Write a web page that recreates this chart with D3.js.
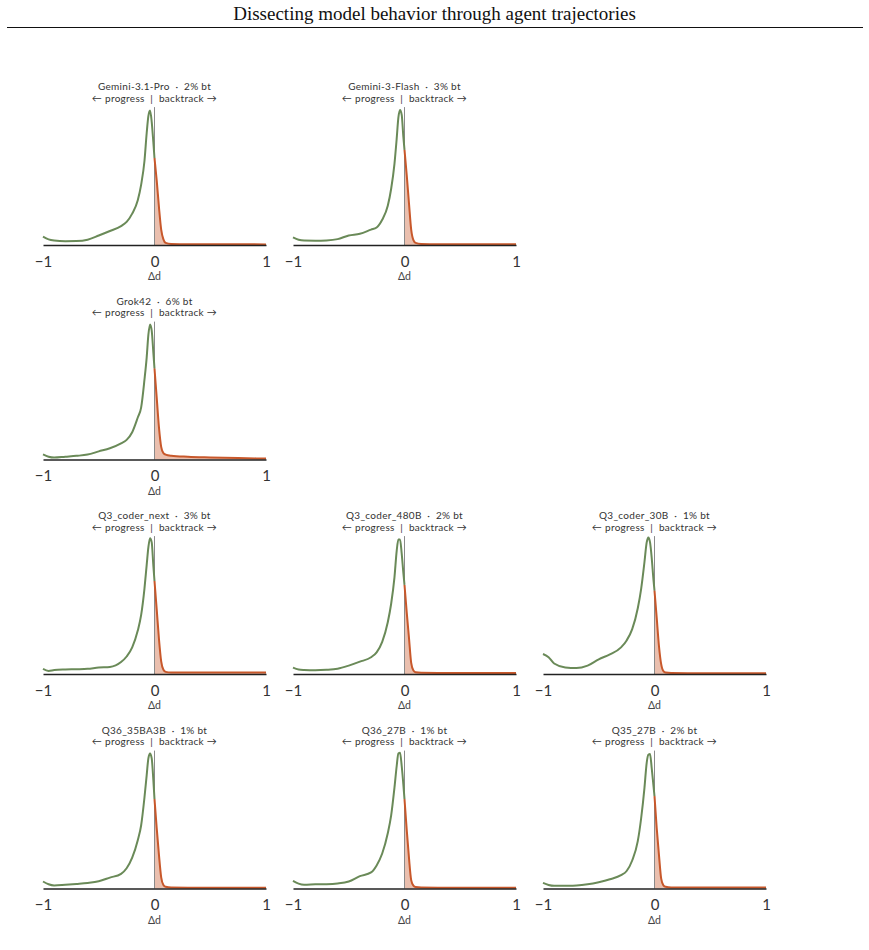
<!DOCTYPE html>
<html>
<head>
<meta charset="utf-8">
<script src="https://cdn.jsdelivr.net/npm/d3@7"></script>
<style>
  body { margin: 0; background: #fff; }
  svg text { white-space: pre; }
</style>
</head>
<body>
<script>
// shared Δd grid for all densities
const xGrid = [-1, -0.95, -0.9, -0.8, -0.7, -0.6, -0.5, -0.4, -0.3, -0.25, -0.2, -0.15, -0.12, -0.09, -0.07, -0.055, -0.04, -0.025, -0.01, 0, 0.02, 0.04, 0.06, 0.08, 0.1, 0.15, 0.3, 0.5, 0.75, 1];

const models = ["Gemini-3.1-Pro", "Gemini-3-Flash", "Grok42", "Q3_coder_next", "Q3_coder_480B", "Q3_coder_30B", "Q36_35BA3B", "Q36_27B", "Q35_27B"];
const btPct = [2, 3, 6, 3, 2, 1, 1, 1, 2];

// density (relative height)
const gemini31Pro = [0.06, 0.04, 0.032, 0.027, 0.028, 0.038, 0.068, 0.1, 0.135, 0.165, 0.224, 0.32, 0.43, 0.6, 0.8, 0.92, 0.96, 0.88, 0.73, 0.62, 0.46, 0.27, 0.11, 0.04, 0.015, 0.007, 0.005, 0.005, 0.005, 0.004];
const gemini3Flash = [0.055, 0.038, 0.032, 0.031, 0.033, 0.042, 0.068, 0.08, 0.11, 0.125, 0.18, 0.28, 0.4, 0.58, 0.76, 0.91, 0.965, 0.93, 0.77, 0.68, 0.5, 0.3, 0.11, 0.035, 0.015, 0.008, 0.006, 0.006, 0.005, 0.005];
const grok42 = [0.036, 0.02, 0.014, 0.02, 0.026, 0.035, 0.058, 0.08, 0.115, 0.14, 0.195, 0.3, 0.37, 0.57, 0.73, 0.89, 0.965, 0.92, 0.76, 0.65, 0.44, 0.23, 0.09, 0.045, 0.035, 0.027, 0.02, 0.015, 0.01, 0.007];
const q3CoderNext = [0.036, 0.022, 0.028, 0.032, 0.034, 0.037, 0.046, 0.05, 0.085, 0.125, 0.19, 0.31, 0.42, 0.61, 0.78, 0.905, 0.97, 0.94, 0.77, 0.664, 0.46, 0.25, 0.09, 0.03, 0.015, 0.01, 0.01, 0.01, 0.01, 0.01];
const q3Coder480B = [0.045, 0.032, 0.029, 0.027, 0.03, 0.038, 0.06, 0.088, 0.12, 0.155, 0.23, 0.37, 0.5, 0.69, 0.88, 0.96, 0.96, 0.86, 0.72, 0.636, 0.44, 0.26, 0.08, 0.025, 0.012, 0.009, 0.008, 0.008, 0.008, 0.008];
const q3Coder30B = [0.143, 0.12, 0.075, 0.047, 0.042, 0.06, 0.105, 0.14, 0.19, 0.24, 0.32, 0.47, 0.607, 0.8, 0.94, 0.975, 0.94, 0.83, 0.68, 0.595, 0.4, 0.2, 0.07, 0.02, 0.01, 0.007, 0.006, 0.006, 0.006, 0.006];
const q36_35BA3B = [0.05, 0.03, 0.022, 0.027, 0.033, 0.04, 0.052, 0.078, 0.105, 0.145, 0.22, 0.345, 0.45, 0.65, 0.81, 0.93, 0.965, 0.93, 0.77, 0.638, 0.43, 0.24, 0.08, 0.025, 0.012, 0.007, 0.006, 0.006, 0.006, 0.006];
const q36_27B = [0.055, 0.035, 0.027, 0.03, 0.031, 0.036, 0.05, 0.088, 0.115, 0.165, 0.25, 0.395, 0.52, 0.72, 0.875, 0.965, 0.97, 0.875, 0.74, 0.638, 0.42, 0.22, 0.06, 0.02, 0.01, 0.007, 0.006, 0.006, 0.006, 0.006];
const q35_27B = [0.04, 0.025, 0.019, 0.02, 0.022, 0.03, 0.045, 0.066, 0.095, 0.125, 0.2, 0.338, 0.5, 0.719, 0.898, 0.955, 0.96, 0.86, 0.74, 0.66, 0.43, 0.24, 0.07, 0.022, 0.012, 0.008, 0.007, 0.007, 0.007, 0.007];

const densities = [gemini31Pro, gemini3Flash, grok42, q3CoderNext, q3Coder480B, q3Coder30B, q36_35BA3B, q36_27B, q35_27B];
const tickValues = [-1, 0, 1];

// grid slot [row, col] of each panel
const slots = [[0, 0], [0, 1], [1, 0], [2, 0], [2, 1], [2, 2], [3, 0], [3, 1], [3, 2]];

const W = 869, H = 950;
const panelW = 223, panelH = 140;
const left0 = 43, colStep = 250, base0 = 245, rowStep = 214.5;

const green = "#6a8a58", orange = "#c8582b";
const tickFont = "'Century Gothic', 'URW Gothic', 'Lato', sans-serif";

const svg = d3.select("body").append("svg")
    .attr("width", W)
    .attr("height", H);

// title + rule
svg.append("text")
    .attr("x", W / 2)
    .attr("y", 20)
    .attr("text-anchor", "middle")
    .style("font-family", "'Liberation Serif', 'Times New Roman', serif")
    .style("font-size", "19px")
    .style("fill", "#111")
    .text("Dissecting model behavior through agent trajectories");

svg.append("line")
    .attr("x1", 7).attr("x2", 863)
    .attr("y1", 27.5).attr("y2", 27.5)
    .style("stroke", "#111")
    .style("stroke-width", 1.2);

var x = d3.scaleLinear().domain([-1, 1]).range([0, panelW]);
var y = d3.scaleLinear().domain([0, 1]).range([0, -panelH]);

var line = d3.line()
    .x(function(d) { return x(d[0]); })
    .y(function(d) { return y(d[1]); })
    .curve(d3.curveMonotoneX);

var area = d3.area()
    .x(function(d) { return x(d[0]); })
    .y0(y(0))
    .y1(function(d) { return y(d[1]); })
    .curve(d3.curveMonotoneX);

models.forEach(function(name, i) {
    var pts = xGrid.map(function(v, j) { return [v, densities[i][j]]; });
    var neg = pts.filter(function(d) { return d[0] <= 0; });
    var pos = pts.filter(function(d) { return d[0] >= 0; });

    var g = svg.append("g")
        .attr("transform", "translate(" + (left0 + slots[i][1] * colStep) + "," + (base0 + slots[i][0] * rowStep) + ")");

    // backtrack shading
    g.append("path")
        .datum(pos)
        .attr("d", area)
        .style("fill", orange)
        .style("fill-opacity", 0.38);

    // zero marker
    g.append("line")
        .attr("x1", x(0)).attr("x2", x(0))
        .attr("y1", 0).attr("y2", y(0.985))
        .style("stroke", "#8a8a8a")
        .style("stroke-width", 1);

    g.append("path")
        .datum(neg)
        .attr("d", line)
        .style("fill", "none")
        .style("stroke", green)
        .style("stroke-width", 2);

    g.append("path")
        .datum(pos)
        .attr("d", line)
        .style("fill", "none")
        .style("stroke", orange)
        .style("stroke-width", 2);

    // x axis
    var ax = g.append("g")
        .call(d3.axisBottom(x).tickValues(tickValues).tickFormat(d3.format("d")).tickSize(0).tickPadding(11));
    ax.select(".domain").style("stroke", "#222").style("stroke-width", 1.5);
    ax.selectAll("text")
        .style("font-family", tickFont)
        .style("font-size", "15px")
        .style("fill", "#333");

    g.append("text")
        .attr("x", x(0))
        .attr("y", 35)
        .attr("text-anchor", "middle")
        .style("font-family", tickFont)
        .style("font-size", "10.5px")
        .style("fill", "#444")
        .text("Δd");

    // panel header
    g.append("text")
        .attr("x", x(0))
        .attr("y", -155)
        .attr("text-anchor", "middle")
        .style("font-family", tickFont)
        .style("font-size", "10px")
        .style("letter-spacing", "0.3px")
        .style("fill", "#333")
        .text(name + "  ·  " + btPct[i] + "% bt");

    g.append("text")
        .attr("x", x(0))
        .attr("y", -143.5)
        .attr("text-anchor", "middle")
        .style("font-family", tickFont)
        .style("font-size", "10px")
        .style("letter-spacing", "0.3px")
        .style("fill", "#333")
        .text("← progress  |  backtrack →");
});
</script>
</body>
</html>
